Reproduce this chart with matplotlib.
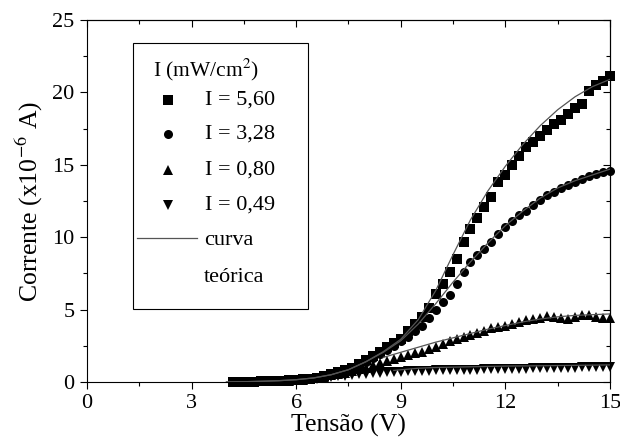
import numpy as np
import matplotlib
matplotlib.use("Agg")
import matplotlib.pyplot as plt
import matplotlib.transforms as mtransforms
from matplotlib.patches import Rectangle
from matplotlib.ticker import MultipleLocator

plt.rcParams['font.family'] = ['Liberation Serif', 'DejaVu Serif']
plt.rcParams['mathtext.fontset'] = 'stix'

# measured points (V, 1e-6 A)
tensao = [4.2, 4.4, 4.6, 4.8, 5.0, 5.2, 5.4, 5.6, 5.8, 6.0,
          6.2, 6.4, 6.6, 6.8, 7.0, 7.2, 7.4, 7.6, 7.8, 8.0,
          8.2, 8.4, 8.6, 8.8, 9.0, 9.2, 9.4, 9.6, 9.8, 10.0,
          10.2, 10.4, 10.6, 10.8, 11.0, 11.2, 11.4, 11.6, 11.8, 12.0,
          12.2, 12.4, 12.6, 12.8, 13.0, 13.2, 13.4, 13.6, 13.8, 14.0,
          14.2, 14.4, 14.6, 14.8, 15.0]

i_560 = [0.0, 0.01, 0.02, 0.03, 0.04, 0.05, 0.07, 0.09, 0.11, 0.14,
         0.18, 0.23, 0.30, 0.38, 0.55, 0.70, 0.85, 1.00, 1.25, 1.50,
         1.80, 2.10, 2.40, 2.70, 3.00, 3.50, 4.00, 4.50, 5.10, 6.10,
         6.80, 7.60, 8.50, 9.70, 10.6, 11.3, 12.1, 12.8, 13.8, 14.3,
         15.0, 15.6, 16.2, 16.6, 17.0, 17.4, 17.8, 18.1, 18.5, 18.9,
         19.2, 20.1, 20.5, 20.8, 21.1]

i_328 = [0.0, 0.01, 0.02, 0.03, 0.04, 0.05, 0.07, 0.09, 0.11, 0.14,
         0.18, 0.23, 0.30, 0.38, 0.52, 0.66, 0.80, 0.95, 1.18, 1.40,
         1.65, 1.90, 2.20, 2.50, 2.80, 3.10, 3.50, 3.90, 4.40, 5.00,
         5.50, 6.00, 6.80, 7.60, 8.30, 8.80, 9.20, 9.70, 10.2, 10.7,
         11.1, 11.5, 11.8, 12.2, 12.6, 12.9, 13.1, 13.4, 13.6, 13.8,
         14.0, 14.2, 14.35, 14.5, 14.6]

i_080 = [0.0, 0.01, 0.02, 0.03, 0.04, 0.05, 0.06, 0.08, 0.10, 0.12,
         0.16, 0.20, 0.27, 0.35, 0.45, 0.55, 0.65, 0.75, 0.90, 1.00,
         1.15, 1.30, 1.45, 1.60, 1.75, 1.85, 2.00, 2.10, 2.25, 2.40,
         2.60, 2.80, 2.95, 3.10, 3.25, 3.40, 3.55, 3.70, 3.80, 3.90,
         4.00, 4.15, 4.25, 4.35, 4.45, 4.55, 4.50, 4.40, 4.35, 4.50,
         4.65, 4.60, 4.50, 4.45, 4.45]

i_049 = [0.0, 0.01, 0.02, 0.03, 0.04, 0.05, 0.06, 0.08, 0.10, 0.12,
         0.15, 0.19, 0.24, 0.29, 0.34, 0.39, 0.44, 0.49, 0.54, 0.58,
         0.62, 0.65, 0.68, 0.70, 0.72, 0.74, 0.75, 0.77, 0.78, 0.80,
         0.81, 0.82, 0.83, 0.84, 0.85, 0.86, 0.87, 0.88, 0.89, 0.90,
         0.91, 0.92, 0.93, 0.94, 0.95, 0.96, 0.97, 0.98, 0.99, 1.00,
         1.01, 1.02, 1.03, 1.04, 1.05]

# theoretical curves
v_teo = [4.0, 4.5, 5.0, 5.5, 6.0, 6.5, 7.0, 7.5, 8.0, 8.5,
         9.0, 9.5, 10.0, 10.5, 11.0, 11.5, 12.0, 12.5, 13.0, 13.5,
         14.0, 14.5, 15.0]
teo_560 = [0.0, 0.02, 0.05, 0.09, 0.16, 0.28, 0.50, 0.85, 1.40, 2.10,
           2.95, 4.30, 6.30, 8.80, 11.2, 13.2, 14.9, 16.4, 17.7, 18.8,
           19.7, 20.4, 20.9]
teo_328 = [0.0, 0.02, 0.05, 0.09, 0.16, 0.28, 0.50, 0.85, 1.40, 2.05,
           2.85, 4.00, 5.40, 6.90, 8.30, 9.60, 10.8, 11.8, 12.7, 13.4,
           13.9, 14.3, 14.7]
v_teo_080 = [8.5, 9.0, 9.5, 10.0, 10.5, 11.0, 11.5, 12.0, 12.5, 13.0,
             13.5, 14.0, 14.5, 15.0]
teo_080 = [1.70, 2.05, 2.40, 2.75, 3.05, 3.35, 3.65, 3.90, 4.15, 4.35,
           4.50, 4.60, 4.65, 4.70]
v_teo_049 = [8.8, 9.5, 10.0, 11.0, 12.0, 13.0, 14.0, 15.0]
teo_049 = [0.80, 0.95, 1.00, 1.05, 1.10, 1.12, 1.15, 1.18]

series = [(i_560, 's', 'I = 5,60'),
          (i_328, 'o', 'I = 3,28'),
          (i_080, '^', 'I = 0,80'),
          (i_049, 'v', 'I = 0,49')]

MS = 6.5

fig = plt.figure(figsize=(6.2, 4.46), dpi=100)
ax = fig.add_axes([0.1403, 0.1435, 0.8435, 0.8117])

for vals, mk, lab in series:
    ax.plot(tensao, vals, linestyle='none', marker=mk, color='black',
            markersize=MS, markeredgewidth=0, clip_on=False, zorder=3)

for vv, tt in [(v_teo, teo_560), (v_teo, teo_328),
               (v_teo_080, teo_080), (v_teo_049, teo_049)]:
    ax.plot(vv, tt, color='#555555', linewidth=0.9, zorder=4)

ax.set_xlim(0, 15)
ax.set_ylim(0, 25)
ax.xaxis.set_major_locator(MultipleLocator(3))
ax.xaxis.set_minor_locator(MultipleLocator(1.5))
ax.yaxis.set_major_locator(MultipleLocator(5))
ax.yaxis.set_minor_locator(MultipleLocator(2.5))
ax.tick_params(which='both', direction='out', top=False, right=False,
               labelsize=16, width=0.8)
ax.tick_params(which='major', length=5, pad=4)
ax.tick_params(which='minor', length=3)

# inward ticks on the top and right edges
ax_t = ax.secondary_xaxis('top')
ax_t.xaxis.set_major_locator(MultipleLocator(3))
ax_t.xaxis.set_minor_locator(MultipleLocator(1.5))
ax_t.tick_params(which='both', direction='in', labeltop=False, width=0.8)
ax_t.tick_params(which='major', length=5)
ax_t.tick_params(which='minor', length=3)
ax_r = ax.secondary_yaxis('right')
ax_r.yaxis.set_major_locator(MultipleLocator(5))
ax_r.yaxis.set_minor_locator(MultipleLocator(2.5))
ax_r.tick_params(which='both', direction='in', labelright=False, width=0.8)
ax_r.tick_params(which='major', length=5)
ax_r.tick_params(which='minor', length=3)

for sp in ax.spines.values():
    sp.set_linewidth(0.8)

# nudge the last x label so it stays inside the figure
fig.canvas.draw()
last = ax.get_xticklabels()[-1]
last.set_transform(last.get_transform() +
                   mtransforms.ScaledTranslation(-3 / 72, 0, fig.dpi_scale_trans))

ax.set_xlabel('Tensão (V)', fontsize=18.5, labelpad=0)
ax.set_ylabel('Corrente (x10$^{-6}$ A)', fontsize=18.5, labelpad=5)

# legend box drawn by hand
ax.add_patch(Rectangle((0.088, 0.2017), 0.3346, 0.7348, transform=ax.transAxes,
                       fill=False, edgecolor='black', linewidth=0.8, zorder=5))
ax.text(0.126, 0.862, 'I (mW/cm$^2$)', transform=ax.transAxes,
        fontsize=15.5, va='center', ha='left')
rows = [0.779, 0.685, 0.586, 0.489]
for (vals, mk, lab), yy in zip(series, rows):
    ax.plot([0.155], [yy], marker=mk, color='black', markersize=MS,
            markeredgewidth=0, transform=ax.transAxes, clip_on=False)
    ax.text(0.2256, yy, lab, transform=ax.transAxes, fontsize=16,
            va='center', ha='left')
ax.plot([0.0956, 0.2103], [0.398, 0.398], color='#555555', linewidth=0.9,
        transform=ax.transAxes)
ax.text(0.224, 0.39, 'curva', transform=ax.transAxes, fontsize=16,
        va='center', ha='left')
ax.text(0.224, 0.29, 'teórica', transform=ax.transAxes, fontsize=16,
        va='center', ha='left')

fig.savefig('out.png', dpi=100)
